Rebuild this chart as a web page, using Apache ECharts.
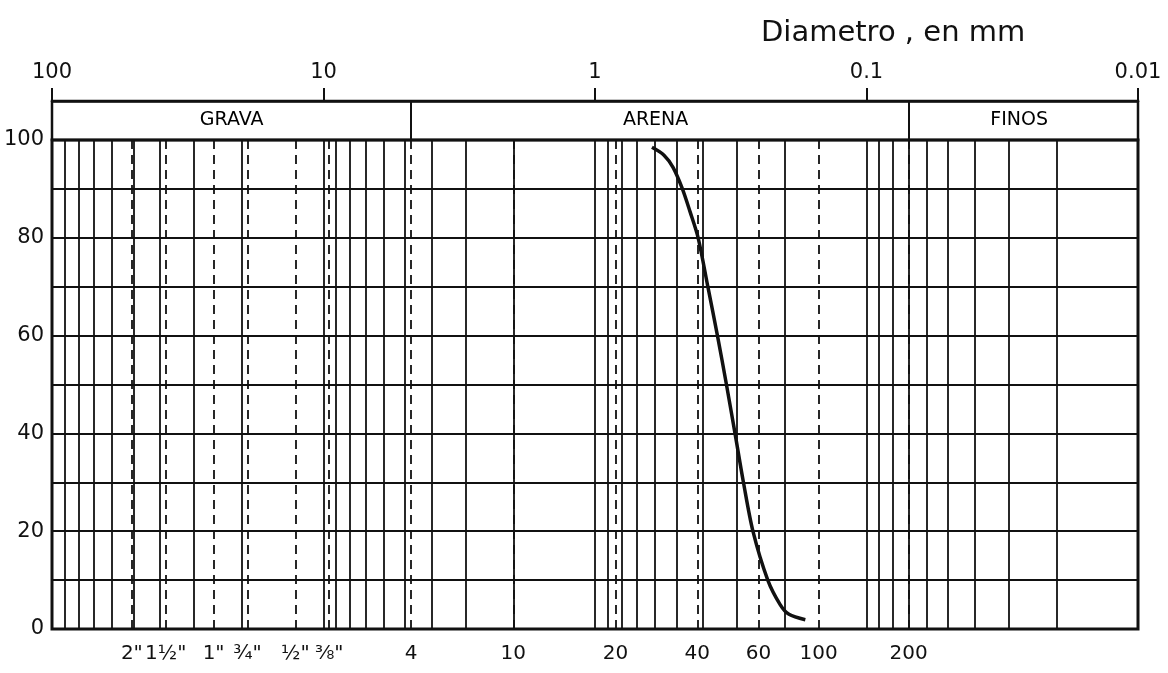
<!DOCTYPE html>
<html>
<head>
<meta charset="utf-8">
<script src="https://cdn.jsdelivr.net/npm/echarts@6/dist/echarts.min.js"></script>
<style>
  html, body { margin: 0; padding: 0; background: #fff; }
  #chart { width: 1168px; height: 673px; }
</style>
</head>
<body>
<div id="chart"></div>
<script>
// curva granulometrica (diametro en mm, % que pasa)
const sizeMm = [0.617, 0.557, 0.516, 0.478, 0.447, 0.417, 0.384, 0.354, 0.328, 0.305, 0.284, 0.262, 0.231, 0.208, 0.193, 0.168];
const passing = [98.5, 96.9, 94.4, 90.2, 85.4, 80, 70, 60, 50, 40, 30, 20, 10, 5, 3, 1.9];

// lineas verticales continuas (escala logaritmica)
const solidLines = [
  90, 80, 70, 60, 50, 40, 30, 20, 10,
  9, 8, 7, 6, 5, 4, 3, 2, 1,
  0.9, 0.8, 0.7, 0.6, 0.5, 0.4, 0.3, 0.2, 0.1,
  0.09, 0.08, 0.07, 0.06, 0.05, 0.04, 0.03, 0.02
];

// tamices (lineas discontinuas)
const sieveSizes = [50.8, 38.1, 25.4, 19.05, 12.7, 9.525, 4.76, 2.0, 0.84, 0.42, 0.25, 0.149, 0.074];
const sieveLabels = ['2"', '1½"', '1"', '¾"', '½"', '⅜"', '4', '10', '20', '40', '60', '100', '200'];

// franjas de la cabecera
const bandEdges = [4.76, 0.075];
const bandNames = ['GRAVA', 'ARENA', 'FINOS'];
const bandCenters = [21.8, 0.598, 0.0274];

const yLabels = [0, 20, 40, 60, 80, 100];

const ink = '#111';
const font = 'DejaVu Sans';

const chart = echarts.init(document.getElementById('chart'));

const option = {
  backgroundColor: '#fff',
  animation: false,
  title: {
    text: 'Diametro , en mm',
    left: 756,
    top: 14,
    textStyle: { fontFamily: font, fontSize: 29, fontWeight: 'normal', color: ink }
  },
  grid: [
    { // zona principal
      left: 52, right: 30, top: 140, bottom: 44,
      show: true, borderColor: ink, borderWidth: 3, backgroundColor: 'transparent'
    },
    { // cabecera
      left: 52, right: 30, top: 101, height: 39,
      show: true, borderColor: ink, borderWidth: 2.5, backgroundColor: 'transparent'
    }
  ],
  xAxis: [
    {
      gridIndex: 0, type: 'log', logBase: 10, inverse: true, min: 0.01, max: 100,
      axisLine: { show: false }, axisTick: { show: false },
      axisLabel: { show: false }, splitLine: { show: false }
    },
    {
      gridIndex: 1, type: 'log', logBase: 10, inverse: true, min: 0.01, max: 100,
      position: 'top',
      axisLine: { show: true, onZero: false, lineStyle: { color: ink, width: 2.5 } },
      axisTick: { show: true, inside: false, length: 13, lineStyle: { color: ink, width: 2 } },
      axisLabel: {
        show: true, margin: 18, fontFamily: font, fontSize: 21, color: ink,
        formatter: (v) => String(v)
      },
      splitLine: { show: false }
    }
  ],
  yAxis: [
    {
      gridIndex: 0, type: 'value', min: 0, max: 100, interval: 10,
      axisLine: { show: false }, axisTick: { show: false },
      axisLabel: {
        margin: 8, fontFamily: font, fontSize: 21, color: ink,
        formatter: (v) => (yLabels.indexOf(v) >= 0 ? String(v) : '')
      },
      splitLine: { show: true, lineStyle: { color: ink, width: 2.2 } }
    },
    {
      gridIndex: 1, type: 'value', min: 0, max: 1, show: false
    }
  ],
  series: [
    {
      type: 'line', xAxisIndex: 0, yAxisIndex: 0, data: [], silent: true, z: 2,
      markLine: {
        silent: true, symbol: 'none', animation: false,
        label: { show: false },
        lineStyle: { color: ink, width: 1.8, type: 'solid' },
        data: solidLines.map((v) => ({ xAxis: v }))
      }
    },
    {
      type: 'line', xAxisIndex: 0, yAxisIndex: 0, data: [], silent: true, z: 2,
      markLine: {
        silent: true, symbol: 'none', animation: false,
        lineStyle: { color: ink, width: 1.8, type: [9, 6] },
        label: {
          show: true, position: 'start', distance: 15,
          fontFamily: font, fontSize: 20, color: ink,
          formatter: (p) => p.name
        },
        data: sieveSizes.map((v, i) => ({ xAxis: v, name: sieveLabels[i] }))
      }
    },
    {
      type: 'line', xAxisIndex: 1, yAxisIndex: 1, data: [], silent: true,
      markLine: {
        silent: true, symbol: 'none', animation: false,
        label: { show: false },
        lineStyle: { color: ink, width: 2, type: 'solid' },
        data: bandEdges.map((v) => ({ xAxis: v }))
      }
    },
    {
      type: 'scatter', xAxisIndex: 1, yAxisIndex: 1, silent: true,
      symbolSize: 1, itemStyle: { color: 'rgba(0,0,0,0)' },
      label: {
        show: true, position: 'inside', opacity: 1,
        fontFamily: font, fontSize: 19, color: '#000',
        formatter: (p) => bandNames[p.dataIndex]
      },
      data: bandCenters.map((c) => [c, 0.5])
    },
    {
      type: 'line', xAxisIndex: 0, yAxisIndex: 0, z: 5,
      smooth: 0.3, showSymbol: false, symbol: 'none',
      lineStyle: { color: ink, width: 3.5 },
      data: sizeMm.map((d, i) => [d, passing[i]])
    }
  ]
};

chart.setOption(option);
</script>
</body>
</html>
